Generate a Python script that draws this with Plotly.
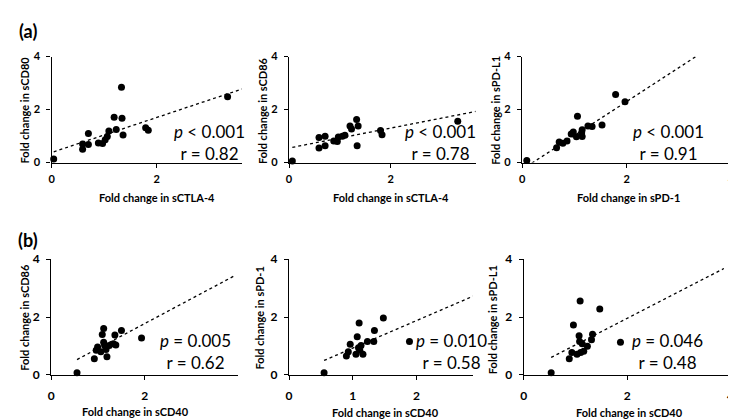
import plotly.graph_objects as go

# ---------------- data ----------------
sctla4_a1 = [0.04, 0.59, 0.59, 0.70, 0.70, 0.89, 0.97, 1.02, 1.06, 1.09, 1.19, 1.23, 1.33, 1.34, 1.36, 1.79, 1.84, 3.35]
scd80_a1 = [0.13, 0.70, 0.50, 1.10, 0.68, 0.74, 0.72, 0.86, 0.98, 1.19, 1.71, 1.25, 2.84, 1.67, 1.04, 1.31, 1.22, 2.48]

sctla4_a2 = [0.065, 0.59, 0.59, 0.71, 0.71, 0.88, 0.95, 0.97, 1.05, 1.10, 1.20, 1.23, 1.33, 1.36, 1.34, 1.80, 1.83, 3.32]
scd86_a2 = [0.06, 0.95, 0.55, 0.99, 0.63, 0.81, 0.79, 0.96, 0.99, 1.03, 1.38, 1.27, 1.62, 1.38, 0.63, 1.21, 1.05, 1.56]

spd1_a3 = [0.09, 0.66, 0.71, 0.78, 0.86, 0.94, 0.98, 1.04, 1.06, 1.14, 1.15, 1.15, 1.26, 1.34, 1.53, 1.79, 1.97]
spdl1_a3 = [0.08, 0.56, 0.78, 0.73, 0.81, 1.08, 1.15, 0.97, 1.75, 1.12, 0.98, 1.24, 1.38, 1.36, 1.42, 2.57, 2.29]

scd40_b1 = [0.55, 0.92, 0.96, 0.99, 1.06, 1.09, 1.12, 1.12, 1.14, 1.17, 1.19, 1.24, 1.33, 1.36, 1.38, 1.50, 1.93]
scd86_b1 = [0.08, 0.56, 0.86, 0.97, 0.80, 1.40, 1.61, 1.13, 1.02, 0.88, 0.63, 1.02, 1.08, 1.38, 1.04, 1.54, 1.28]

scd40_b2 = [0.55, 0.90, 0.93, 0.96, 1.05, 1.07, 1.09, 1.10, 1.11, 1.13, 1.16, 1.23, 1.33, 1.34, 1.48, 1.89]
spd1_b2 = [0.08, 0.66, 0.80, 1.06, 0.72, 1.32, 0.94, 1.80, 0.86, 1.02, 0.72, 1.16, 1.16, 1.54, 1.97, 1.16]

scd40_b3 = [0.53, 0.88, 0.93, 0.96, 1.03, 1.07, 1.08, 1.09, 1.10, 1.13, 1.16, 1.23, 1.31, 1.33, 1.47, 1.87]
spdl1_b3 = [0.08, 0.56, 0.78, 1.73, 0.72, 1.36, 1.16, 2.56, 0.78, 1.08, 0.82, 0.99, 1.22, 1.41, 2.28, 1.13]

# linear trendlines (slope, intercept) and forward forecast
trend_slope = [0.66, 0.375, 1.28, 0.86, 0.95, 0.92]
trend_intercept = [0.38, 0.55, -0.26, 0.06, -0.02, 0.12]
trend_forecast = 2.0

x_titles = ["Fold change in sCTLA-4", "Fold change in sCTLA-4", "Fold change in sPD-1",
            "Fold change in sCD40", "Fold change in sCD40", "Fold change in sCD40"]
y_titles = ["Fold change in sCD80", "Fold change in sCD86", "Fold change in sPD-L1",
            "Fold change in sCD86", "Fold change in sPD-1", "Fold change in sPD-L1"]
p_texts = ["<i>p</i> < 0.001", "<i>p</i> < 0.001", "<i>p</i> < 0.001",
           "<i>p</i> = 0.005", "<i>p</i> = 0.010", "<i>p</i> = 0.046"]
r_texts = ["r = 0.82", "r = 0.78", "r = 0.91", "r = 0.62", "r = 0.58", "r = 0.48"]
x_ranges = [3.62, 3.67, 4.0, 4.0, 2.88, 4.0]
x_ticks = [[0, 2], [0, 2], [0, 2, 4], [0, 2], [0, 1, 2], [0, 2, 4]]
y_ticks = [0, 2, 4]
panel_labels = ["(a)", "(b)"]

xs = [sctla4_a1, sctla4_a2, spd1_a3, scd40_b1, scd40_b2, scd40_b3]
ys = [scd80_a1, scd86_a2, spdl1_a3, scd86_b1, spd1_b2, spdl1_b3]

# ---------------- layout geometry (pixels) ----------------
W, H = 736, 420
def px(x):
    return x / W
def py(y):
    return 1 - y / H

# (left, right, top, bottom) of each plot area
boxes = [(41, 233, 42, 152), (280.7, 469, 42, 152), (516, 727, 42, 152),
         (40.7, 229.5, 252.3, 372.3), (280.7, 466, 252.3, 372.3), (517.7, 726.5, 252.3, 372.3)]
xtitle_pos = [(147, 188), (384, 188), (623, 188), (126, 410), (378, 411), (624, 411)]
ytitle_pos = [(14, 97), (254, 98), (489, 98), (14, 312), (251, 313), (486, 315)]
stat_pos = [(200, 131), (434, 131), (663.5, 131), (186, 348), (445, 348), (663, 348)]
tick_font = [11, 11, 11, 12, 12, 12]
x_standoff = [2, 2, 2, 5, 5, 5]
y_standoff = [4, 4, 4, 4, 4, 4]

FONT = "Lato"
fig = go.Figure()

for i in range(6):
    ax = "" if i == 0 else str(i + 1)
    xa, ya = "x" + ax, "y" + ax
    fig.add_trace(go.Scatter(
        x=xs[i], y=ys[i], mode="markers", xaxis=xa, yaxis=ya,
        marker=dict(color="black", size=7), cliponaxis=False, showlegend=False))
    x0 = min(xs[i])
    x1 = max(xs[i]) + trend_forecast
    fig.add_trace(go.Scatter(
        x=[x0, x1],
        y=[trend_slope[i] * x0 + trend_intercept[i], trend_slope[i] * x1 + trend_intercept[i]],
        mode="lines", xaxis=xa, yaxis=ya,
        line=dict(color="black", width=1.3, dash="dot"), showlegend=False))
    l, r, t, b = boxes[i]
    common = dict(showgrid=False, zeroline=False, showline=True, linecolor="black", linewidth=1.3,
                  ticks="outside", ticklen=4, tickcolor="black", tickwidth=1.3,
                  tickfont=dict(family=FONT, size=tick_font[i], color="black", weight="bold"))
    fig.update_layout(**{
        "xaxis" + ax: dict(domain=[px(l), px(r)], range=[0, x_ranges[i]], anchor=ya,
                           tickvals=x_ticks[i], ticklabelstandoff=x_standoff[i], **common),
        "yaxis" + ax: dict(domain=[py(b), py(t)], range=[0, 4], anchor=xa,
                           tickvals=y_ticks, ticklabelstandoff=y_standoff[i], **common),
    })
    fig.add_annotation(x=px(xtitle_pos[i][0]), y=py(xtitle_pos[i][1]), xref="paper", yref="paper",
                       text=x_titles[i], showarrow=False, xanchor="center", yanchor="middle",
                       font=dict(family=FONT, size=11, color="black", weight="bold"))
    fig.add_annotation(x=px(ytitle_pos[i][0]), y=py(ytitle_pos[i][1]), xref="paper", yref="paper",
                       text=y_titles[i], showarrow=False, xanchor="center", yanchor="middle",
                       textangle=-90,
                       font=dict(family=FONT, size=11, color="black", weight="bold"))
    fig.add_annotation(x=px(stat_pos[i][0]), y=py(stat_pos[i][1]), xref="paper", yref="paper",
                       text=p_texts[i] + "<br>" + r_texts[i], showarrow=False,
                       xanchor="center", yanchor="middle", align="center",
                       font=dict(family=FONT, size=17, color="black"))

for lbl, (lx, ly) in zip(panel_labels, [(17, 16), (17, 232)]):
    fig.add_annotation(x=px(lx), y=py(ly), xref="paper", yref="paper", text=lbl, showarrow=False,
                       xanchor="center", yanchor="middle",
                       font=dict(family=FONT, size=18, color="black", weight="bold"))

fig.update_layout(width=W, height=H, margin=dict(l=0, r=0, t=0, b=0),
                  paper_bgcolor="white", plot_bgcolor="white", showlegend=False)
fig.write_html("out.html")
